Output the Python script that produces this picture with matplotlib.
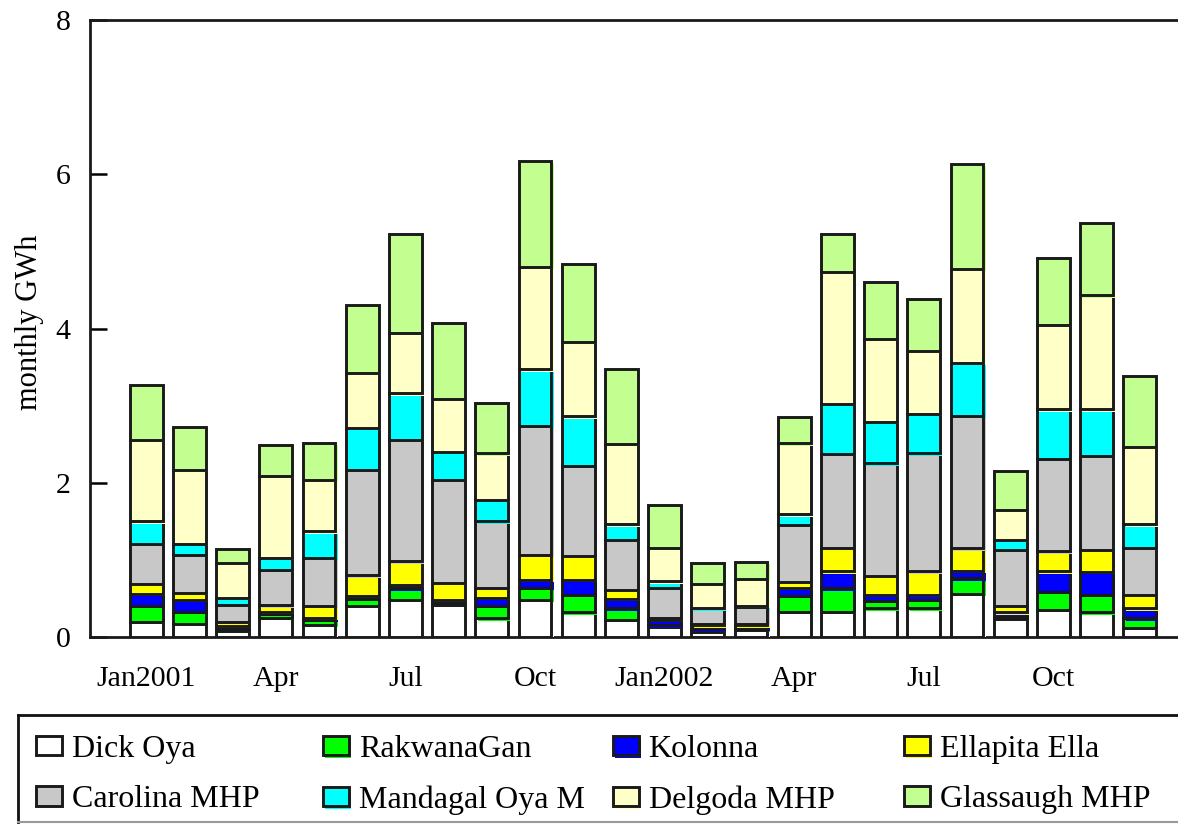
import matplotlib
matplotlib.use("Agg")
import matplotlib.pyplot as plt
import numpy as np
from matplotlib import patheffects as pe
from matplotlib.lines import Line2D

plt.rcParams['font.family'] = ['Liberation Serif', 'DejaVu Serif']

months = ['Jan2001', '', '', 'Apr', '', '', 'Jul', '', '', 'Oct', '', '',
          'Jan2002', '', '', 'Apr', '', '', 'Jul', '', '', 'Oct', '', '']

dick_oya = [0.20, 0.17, 0.08, 0.25, 0.16, 0.40, 0.48, 0.42, 0.24, 0.48, 0.32, 0.22,
            0.13, 0.07, 0.09, 0.33, 0.33, 0.37, 0.37, 0.56, 0.23, 0.35, 0.32, 0.12]
rakwana_gan = [0.20, 0.16, 0.03, 0.05, 0.06, 0.09, 0.15, 0.02, 0.16, 0.16, 0.23, 0.15,
               0.02, 0.03, 0.02, 0.20, 0.30, 0.10, 0.11, 0.20, 0.03, 0.23, 0.23, 0.12]
kolonna = [0.16, 0.15, 0.03, 0.03, 0.03, 0.04, 0.05, 0.04, 0.11, 0.10, 0.19, 0.12,
           0.07, 0.05, 0.04, 0.11, 0.22, 0.08, 0.07, 0.10, 0.06, 0.27, 0.29, 0.13]
ellapita_ella = [0.13, 0.09, 0.06, 0.08, 0.15, 0.27, 0.30, 0.22, 0.13, 0.32, 0.31, 0.12,
                 0.03, 0.02, 0.02, 0.07, 0.31, 0.24, 0.30, 0.29, 0.08, 0.26, 0.29, 0.18]
carolina_mhp = [0.52, 0.49, 0.22, 0.46, 0.63, 1.37, 1.58, 1.34, 0.86, 1.68, 1.17, 0.65,
                0.39, 0.20, 0.22, 0.74, 1.21, 1.46, 1.53, 1.72, 0.73, 1.20, 1.22, 0.61]
mandagal_oya = [0.29, 0.15, 0.09, 0.16, 0.34, 0.54, 0.60, 0.36, 0.28, 0.73, 0.64, 0.20,
                0.08, 0.01, 0.01, 0.14, 0.65, 0.54, 0.51, 0.68, 0.13, 0.64, 0.60, 0.30]
delgoda_mhp = [1.06, 0.96, 0.45, 1.06, 0.67, 0.71, 0.78, 0.69, 0.60, 1.33, 0.97, 1.04,
               0.44, 0.31, 0.35, 0.92, 1.71, 1.08, 0.82, 1.22, 0.39, 1.10, 1.48, 1.00]
glassaugh_mhp = [0.71, 0.55, 0.18, 0.40, 0.48, 0.89, 1.28, 0.98, 0.65, 1.37, 1.00, 0.98,
                 0.55, 0.27, 0.22, 0.34, 0.49, 0.73, 0.67, 1.36, 0.50, 0.86, 0.94, 0.93]

series_names = ['Dick Oya', 'RakwanaGan', 'Kolonna', 'Ellapita Ella',
                'Carolina MHP', 'Mandagal Oya M', 'Delgoda MHP', 'Glassaugh MHP']
series_values = [dick_oya, rakwana_gan, kolonna, ellapita_ella,
                 carolina_mhp, mandagal_oya, delgoda_mhp, glassaugh_mhp]
series_colors = ['#ffffff', '#00ff00', '#0000ff', '#ffff00',
                 '#c8c8c8', '#00ffff', '#ffffc8', '#c2ff90']

W, H = 1178, 824
fig = plt.figure(figsize=(W / 100, H / 100), dpi=100)
ax = fig.add_axes([90 / W, 1 - 637 / H, 1 - 90 / W + 0.002, (637 - 20) / H])

x = np.arange(len(months))
bottom = np.zeros(len(months))
handles = []
for name, vals, col in zip(series_names, series_values, series_colors):
    vals = np.array(vals)
    bars = ax.bar(x, vals, bottom=bottom, width=0.76, color=col,
                  edgecolor='#1a1a1a', linewidth=2.1, label=name, zorder=3)
    for b in bars:
        b.set_path_effects([pe.SimplePatchShadow(offset=(1.6, -1.6),
                                                 shadow_rgbFace=col, alpha=1.0),
                            pe.Normal()])
    handles.append(bars[0])
    bottom += vals

ax.set_xlim(-1.30, 23.94)
ax.set_ylim(0, 8)
ax.set_yticks([0, 2, 4, 6, 8])
ax.set_xticks(x)
ax.set_xticklabels(months)
ax.tick_params(axis='x', length=0, pad=21, labelsize=21.5)
ax.tick_params(axis='y', direction='in', length=12, width=1.8, pad=14,
               labelsize=21.5, right=False)
for side in ['left', 'top', 'bottom']:
    ax.spines[side].set_linewidth(2.0)
    ax.spines[side].set_color('#1a1a1a')
ax.spines['right'].set_visible(False)

fig.text(30 / W, 1 - 322 / H, 'monthly GWh', rotation=90, ha='center',
         va='center', fontsize=22)

# legend frame: open on the right, gray rule along the bottom
fig.add_artist(Line2D([18 / W, 1.0], [1 - 715 / H, 1 - 715 / H],
                      transform=fig.transFigure, color='#111111', lw=2))
fig.add_artist(Line2D([18 / W, 18 / W], [1 - 715 / H, 1 - 822 / H],
                      transform=fig.transFigure, color='#111111', lw=2))
fig.add_artist(Line2D([18 / W, 1.0], [1 - 822 / H, 1 - 822 / H],
                      transform=fig.transFigure, color='#999999', lw=1.5))

col_left = [36, 323, 613, 904]
fs = 23
for c in range(4):
    hs = [handles[c], handles[c + 4]]
    labels = [series_names[c], series_names[c + 4]]
    leg = fig.legend(hs, labels, loc='upper left',
                     bbox_to_anchor=(col_left[c] / W, 1 - 735 / H),
                     frameon=False, fontsize=fs, borderpad=0, borderaxespad=0,
                     handlelength=26 / (fs * 1.389), handleheight=18 / (fs * 1.389),
                     handletextpad=0.30, labelspacing=0.67)

fig.savefig('out.png', dpi=100)
